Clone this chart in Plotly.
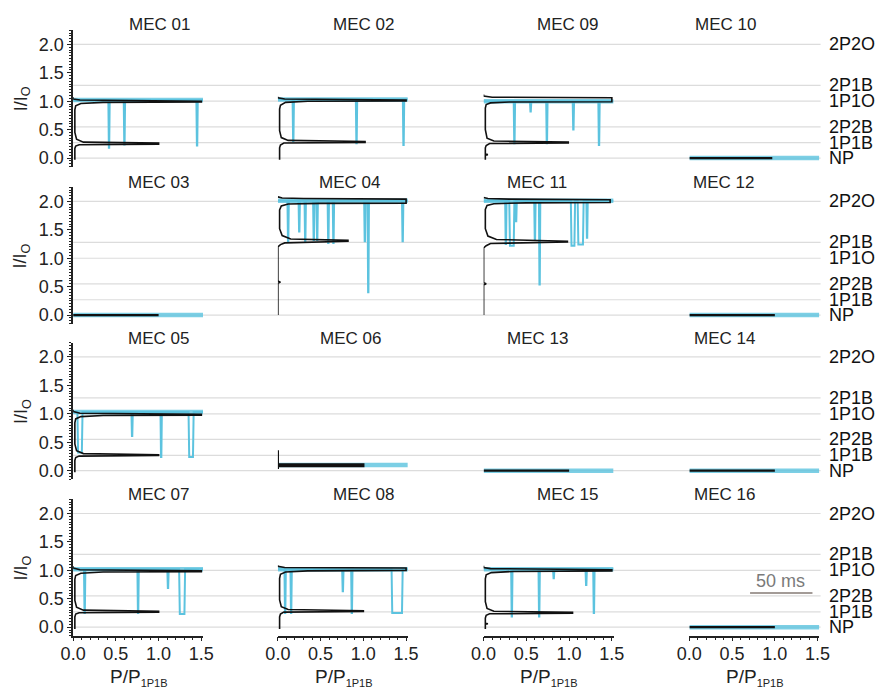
import plotly.graph_objects as go
from plotly.subplots import make_subplots

# ---------------- data ----------------
PANEL_NAMES = [
    ["MEC 01", "MEC 02", "MEC 09", "MEC 10"],
    ["MEC 03", "MEC 04", "MEC 11", "MEC 12"],
    ["MEC 05", "MEC 06", "MEC 13", "MEC 14"],
    ["MEC 07", "MEC 08", "MEC 15", "MEC 16"],
]
LEVEL_NAMES = ["NP", "1P1B", "2P2B", "1P1O", "2P1B", "2P2O"]
LEVEL_VALUES = [0.0, 0.27, 0.55, 1.0, 1.28, 2.0]
Y_TICKS = [0.0, 0.5, 1.0, 1.5, 2.0]
X_TICKS = [0.0, 0.5, 1.0, 1.5]
TRACE_END = 1.52  # normalised trace length (P/P1P1B axis)

# cyan current trace: baseline level and dips (start, end, bottom level)
OPEN_LEVEL = {
    "MEC 01": 1.02, "MEC 02": 1.03, "MEC 09": 1.00, "MEC 10": 0.0,
    "MEC 03": 0.0, "MEC 04": 2.01, "MEC 11": 2.01, "MEC 12": 0.0,
    "MEC 05": 1.03, "MEC 06": 0.10, "MEC 13": 0.0, "MEC 14": 0.0,
    "MEC 07": 1.02, "MEC 08": 1.02, "MEC 15": 1.02, "MEC 16": 0.0,
}
DIPS = {
    "MEC 01": [(0.40, 0.44, 0.18), (0.58, 0.62, 0.24), (1.43, 1.47, 0.22)],
    "MEC 02": [(0.16, 0.20, 0.30), (0.90, 0.94, 0.26), (1.45, 1.49, 0.23)],
    "MEC 09": [(0.34, 0.38, 0.26), (0.53, 0.57, 0.82), (0.72, 0.76, 0.26),
               (1.03, 1.07, 0.50), (1.33, 1.37, 0.23)],
    "MEC 04": [(0.10, 0.14, 1.30), (0.24, 0.26, 1.47), (0.30, 0.34, 1.30),
               (0.41, 0.43, 1.32), (0.45, 0.47, 1.32), (0.57, 0.61, 1.27),
               (0.63, 0.67, 1.27), (1.00, 1.035, 1.30), (1.045, 1.07, 0.40),
               (1.44, 1.48, 1.30)],
    "MEC 11": [(0.25, 0.27, 1.25), (0.30, 0.36, 1.22), (0.37, 0.39, 1.65),
               (0.59, 0.61, 1.33), (0.64, 0.67, 0.54), (1.02, 1.07, 1.22),
               (1.10, 1.17, 1.24), (1.20, 1.22, 1.36)],
    "MEC 05": [(0.05, 0.11, 0.32), (0.68, 0.70, 0.61), (1.01, 1.05, 0.24),
               (1.35, 1.41, 0.24)],
    "MEC 07": [(0.11, 0.16, 0.25), (0.74, 0.78, 0.25), (1.10, 1.12, 0.69),
               (1.24, 1.31, 0.23)],
    "MEC 08": [(0.07, 0.10, 0.25), (0.14, 0.17, 0.25), (0.75, 0.77, 0.63),
               (0.85, 0.88, 0.25), (1.33, 1.46, 0.25)],
    "MEC 15": [(0.31, 0.35, 0.19), (0.63, 0.67, 0.19), (0.81, 0.83, 0.86),
               (1.19, 1.21, 0.74), (1.28, 1.30, 0.25)],
}

# black all-points histograms (x = P/P1P1B, y = I/Io)
HIST_X = {
    "MEC 01": [0.02, 0.02, 0.03, 0.07, 1.0, 1.0, 0.12, 0.04, 0.02, 0.02, 0.03, 0.09, 0.35, 1.5, 1.5, 0.08, 0.0, 0.0],
    "MEC 02": [0.02, 0.02, 0.03, 0.07, 1.02, 1.02, 0.12, 0.04, 0.02, 0.02, 0.03, 0.09, 0.35, 1.5, 1.5, 0.08, 0.0, 0.0],
    "MEC 09": [0.02, 0.02, 0.05, 0.02, 0.02, 0.03, 0.07, 0.99, 0.99, 0.12, 0.04, 0.02, 0.02, 0.03, 0.08, 0.3, 1.5, 1.5, 0.1, 0.0, 0.0],
    "MEC 10": [0.0, 0.97],
    "MEC 03": [0.0, 1.0],
    "MEC 04": [0.0, 0.0, 0.03, 0.0, 0.0, 0.03, 0.08, 0.82, 0.82, 0.15, 0.05, 0.02, 0.02, 0.04, 0.12, 0.5, 1.5, 1.5, 0.3, 0.05, 0.0],
    "MEC 11": [0.0, 0.0, 0.03, 0.0, 0.0, 0.03, 0.08, 0.98, 0.98, 0.15, 0.05, 0.02, 0.02, 0.04, 0.12, 0.5, 1.48, 1.48, 0.3, 0.05, 0.0],
    "MEC 12": [0.0, 1.0],
    "MEC 05": [0.02, 0.02, 0.03, 0.07, 1.0, 1.0, 0.12, 0.04, 0.02, 0.02, 0.03, 0.09, 0.35, 1.5, 1.5, 0.08, 0.0, 0.0],
    "MEC 06": [0.0, 0.0, 0.0, 1.0, 1.0, 0.0, 0.0, 1.0],
    "MEC 13": [0.0, 1.0],
    "MEC 14": [0.0, 1.0],
    "MEC 07": [0.02, 0.02, 0.03, 0.07, 1.0, 1.0, 0.12, 0.04, 0.02, 0.02, 0.03, 0.09, 0.35, 1.5, 1.5, 0.08, 0.0, 0.0],
    "MEC 08": [0.02, 0.02, 0.03, 0.07, 1.0, 1.0, 0.12, 0.04, 0.02, 0.02, 0.03, 0.09, 0.35, 1.5, 1.5, 0.08, 0.0, 0.0],
    "MEC 15": [0.02, 0.02, 0.05, 0.02, 0.02, 0.03, 0.07, 1.04, 1.04, 0.12, 0.04, 0.02, 0.02, 0.03, 0.09, 0.35, 1.5, 1.5, 0.08, 0.0, 0.0],
    "MEC 16": [0.0, 1.0],
}
HIST_Y = {
    "MEC 01": [-0.03, 0.17, 0.21, 0.235, 0.245, 0.262, 0.28, 0.33, 0.45, 0.85, 0.92, 0.96, 0.98, 0.985, 1.0, 1.02, 1.04, 1.07],
    "MEC 02": [-0.03, 0.18, 0.23, 0.265, 0.275, 0.29, 0.31, 0.36, 0.48, 0.86, 0.93, 0.98, 1.0, 1.005, 1.02, 1.04, 1.06, 1.08],
    "MEC 09": [-0.03, 0.05, 0.06, 0.07, 0.18, 0.22, 0.255, 0.265, 0.28, 0.30, 0.35, 0.5, 0.88, 0.94, 0.97, 0.985, 0.99, 1.06, 1.07, 1.09, 1.12],
    "MEC 10": [0.0, 0.0],
    "MEC 03": [0.0, 0.0],
    "MEC 04": [0.0, 0.56, 0.58, 0.60, 1.20, 1.24, 1.27, 1.30, 1.315, 1.34, 1.40, 1.52, 1.85, 1.92, 1.955, 1.965, 1.97, 2.04, 2.05, 2.06, 2.08],
    "MEC 11": [0.0, 0.53, 0.55, 0.57, 1.18, 1.22, 1.26, 1.285, 1.30, 1.33, 1.39, 1.52, 1.86, 1.93, 1.96, 1.975, 1.98, 2.03, 2.04, 2.05, 2.07],
    "MEC 12": [0.0, 0.0],
    "MEC 05": [-0.03, 0.18, 0.23, 0.255, 0.265, 0.28, 0.30, 0.35, 0.47, 0.84, 0.91, 0.95, 0.97, 0.975, 0.99, 1.01, 1.04, 1.07],
    "MEC 06": [0.36, 0.03, 0.08, 0.08, 0.11, 0.11, 0.095, 0.095],
    "MEC 13": [0.0, 0.0],
    "MEC 14": [0.0, 0.0],
    "MEC 07": [-0.03, 0.18, 0.23, 0.255, 0.265, 0.28, 0.30, 0.35, 0.47, 0.84, 0.91, 0.95, 0.97, 0.975, 0.99, 1.01, 1.04, 1.07],
    "MEC 08": [-0.03, 0.18, 0.23, 0.265, 0.275, 0.29, 0.31, 0.36, 0.48, 0.86, 0.93, 0.97, 0.99, 1.0, 1.04, 1.05, 1.07, 1.09],
    "MEC 15": [-0.03, 0.05, 0.06, 0.07, 0.16, 0.21, 0.235, 0.245, 0.26, 0.28, 0.33, 0.45, 0.85, 0.92, 0.96, 0.98, 0.99, 1.01, 1.03, 1.05, 1.08],
    "MEC 16": [0.0, 0.0],
}

# ---------------- layout geometry (pixels of the target picture) ----------------
W, H = 878, 689
COL_X0 = [70, 276, 483, 690]        # pixel of x = 0 in each column
X_UNIT = 86.0                        # pixels per 1.0 on x
ROW_Y0 = [158.5, 316, 472, 629]      # pixel of y = 0 in each row
Y_UNIT = 57.0
X_RANGE = [0, 1.52]
Y_RANGE = [-0.15, 2.25]
TITLE_PX = [[157, 362, 567, 726], [156, 348, 537, 724],
            [156, 349, 537, 725], [156, 362, 567, 725]]
TITLE_PY = [25, 183, 339, 496]
GRID_X = [70, 822]
# the photographed page shows the figure slightly squeezed horizontally;
# pre-compensate horizontal placement
SQUEEZE, SHIFT = 0.9786, 9.5
CYAN = "#5cc3df"
BLACK = "#111111"
FONT = "Liberation Sans, Arial, sans-serif"

fig = make_subplots(rows=4, cols=4)


def px2paper_x(p):
    return ((p - SHIFT) / SQUEEZE) / W


def px2paper_y(p):
    return 1 - p / H


annotations = []
shapes = []
for r in range(4):
    for c in range(4):
        n = r * 4 + c + 1
        name = PANEL_NAMES[r][c]
        xa = "x" if n == 1 else f"x{n}"
        # cyan trace
        lvl = OPEN_LEVEL[name]
        fig.add_trace(go.Scatter(x=[0, TRACE_END], y=[lvl, lvl], mode="lines",
                                 line=dict(color=CYAN, width=4.5), opacity=0.8,
                                 hoverinfo="skip", showlegend=False), row=r + 1, col=c + 1)
        dips = DIPS.get(name, [])
        if dips:
            tx, ty = [0.0], [lvl]
            for (xs, xe, d) in dips:
                if xe - xs > 0.05:      # long closure: U shaped
                    tx += [xs, xs + 0.008, xe - 0.008, xe]
                else:                   # brief closure: spike
                    m = (xs + xe) / 2
                    tx += [m - 0.008, m - 0.002, m + 0.002, m + 0.008]
                ty += [lvl, d, d, lvl]
            tx.append(TRACE_END)
            ty.append(lvl)
            fig.add_trace(go.Scatter(x=tx, y=ty, mode="lines",
                                     line=dict(color=CYAN, width=2.0),
                                     hoverinfo="skip", showlegend=False), row=r + 1, col=c + 1)
        # black histogram
        fig.add_trace(go.Scatter(x=HIST_X[name], y=HIST_Y[name], mode="lines",
                                 line=dict(color=BLACK, width=1.6 if dips else 2.2),
                                 hoverinfo="skip", showlegend=False), row=r + 1, col=c + 1)

        # domains
        x0 = COL_X0[c]
        x1 = x0 + (X_RANGE[1] - X_RANGE[0]) * X_UNIT
        ybot = ROW_Y0[r] - Y_RANGE[0] * Y_UNIT
        ytop = ROW_Y0[r] - Y_RANGE[1] * Y_UNIT
        xkey = "xaxis" if n == 1 else f"xaxis{n}"
        ykey = "yaxis" if n == 1 else f"yaxis{n}"
        bottom = (r == 3)
        left = (c == 0)
        fig.layout[xkey].update(
            domain=[px2paper_x(x0), px2paper_x(x1)], range=X_RANGE,
            showgrid=False, zeroline=False,
            showline=bottom, linecolor="#222", linewidth=1.5,
            ticks="outside" if bottom else "", ticklen=4, tickwidth=1.2, tickcolor="#222",
            tickvals=X_TICKS, ticktext=[f"{v:.1f}" for v in X_TICKS],
            showticklabels=bottom, ticklabelstandoff=-3,
            tickfont=dict(family=FONT, size=18, color="#222"),
            minor=dict(ticks="outside", dtick=0.1, ticklen=2.5, tickcolor="#222") if bottom else dict(ticks=""),
        )
        fig.layout[ykey].update(
            domain=[px2paper_y(ybot), px2paper_y(ytop)], range=Y_RANGE,
            showgrid=False, zeroline=False,
            showline=left, linecolor="#222", linewidth=1.5,
            ticks="outside" if left else "", ticklen=4, tickwidth=1.2, tickcolor="#222",
            tickvals=Y_TICKS, ticktext=[f"{v:.1f}" for v in Y_TICKS],
            showticklabels=left,
            tickfont=dict(family=FONT, size=18, color="#222"),
            minor=dict(ticks="outside", dtick=0.05, ticklen=2.5, tickcolor="#222") if left else dict(ticks=""),
        )
        # panel title
        annotations.append(dict(text=name, xref="paper", yref="paper",
                                x=px2paper_x(TITLE_PX[r][c]), y=px2paper_y(TITLE_PY[r]),
                                xanchor="center", yanchor="middle", showarrow=False,
                                font=dict(family=FONT, size=17, color="#222")))
        if bottom:
            annotations.append(dict(
                text="P/P<sub><span style='font-size:11px'>1P1B</span></sub>",
                xref=xa, yref="paper", x=0.77, y=px2paper_y(679),
                xanchor="center", yanchor="middle", showarrow=False,
                font=dict(family=FONT, size=19, color="#222")))
    # row-level grid lines and state labels
    ya = "y" if r == 0 else f"y{r * 4 + 1}"
    for lname, lv in zip(LEVEL_NAMES, LEVEL_VALUES):
        shapes.append(dict(type="line", xref="paper", yref=ya,
                           x0=px2paper_x(GRID_X[0]), x1=px2paper_x(GRID_X[1]), y0=lv, y1=lv,
                           line=dict(color="#dcdcdc", width=1.2), layer="below"))
        annotations.append(dict(text=lname, xref="paper", yref=ya, x=px2paper_x(828), y=lv,
                                xanchor="left", yanchor="middle", showarrow=False,
                                font=dict(family=FONT, size=18, color="#111")))
    annotations.append(dict(text="I/I<sub>O</sub>", xref="paper", yref=ya, x=px2paper_x(19), y=1.04,
                            xanchor="center", yanchor="middle", textangle=-90, showarrow=False,
                            font=dict(family=FONT, size=18, color="#222")))

# 50 ms scale bar in MEC 16 panel
shapes.append(dict(type="line", xref="x16", yref="y16", x0=0.71, x1=1.44, y0=0.6, y1=0.6,
                   line=dict(color="#857a74", width=1.5)))
annotations.append(dict(text="50 ms", xref="x16", yref="y16", x=1.07, y=0.6, yshift=12,
                        xanchor="center", yanchor="middle", showarrow=False,
                        font=dict(family=FONT, size=18, color="#7a7a7a")))

fig.update_layout(width=W, height=H, margin=dict(l=0, r=0, t=0, b=0),
                  paper_bgcolor="white", plot_bgcolor="rgba(0,0,0,0)",
                  annotations=annotations, shapes=shapes, showlegend=False,
                  font=dict(family=FONT))
fig.write_html("out.html", config={"displayModeBar": False},
               post_script="document.body.style.margin='0px';document.body.style.overflow='hidden';")
